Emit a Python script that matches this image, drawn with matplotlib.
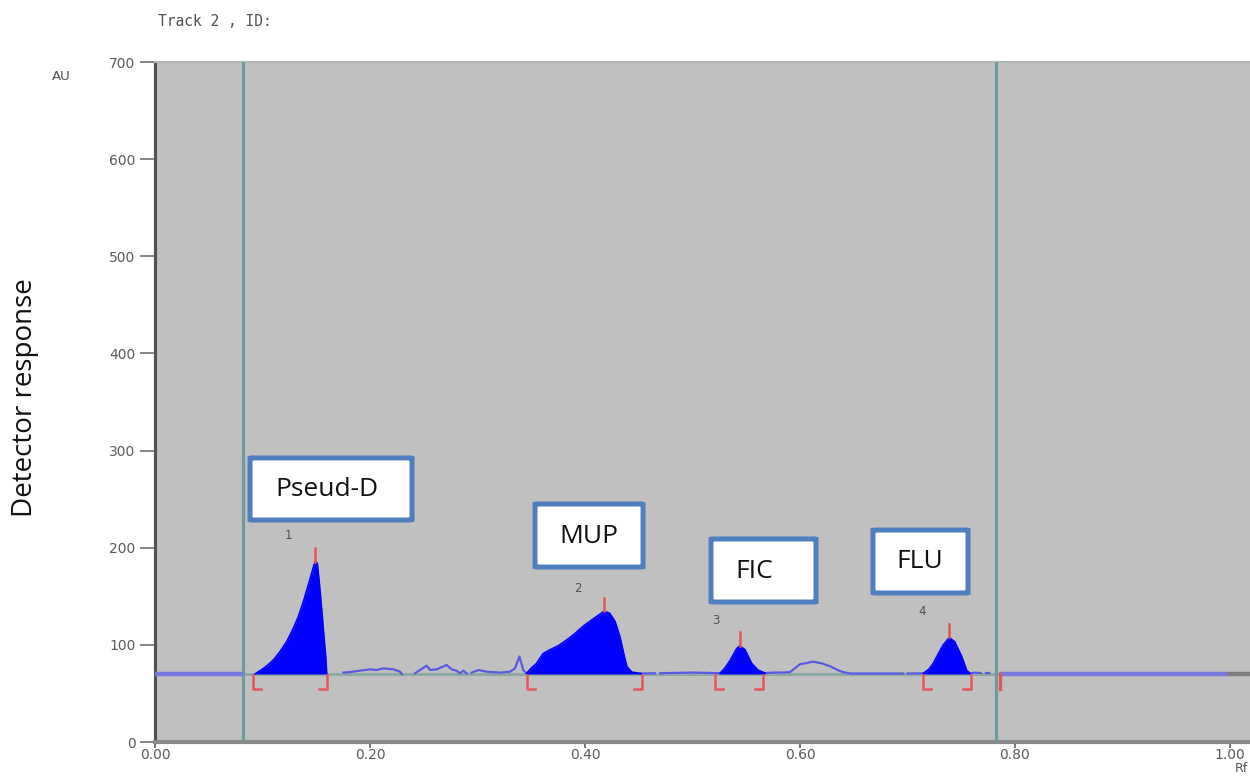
import numpy as np
import matplotlib
matplotlib.use("Agg")
import matplotlib.pyplot as plt
from matplotlib.patches import FancyBboxPatch

# ---- densitometric scan data (Rf vs. AU) ----
baseline_au = 70

peak_names = ["Pseud-D", "MUP", "FIC", "FLU"]
peak_ids = ["1", "2", "3", "4"]

peak1_x = [0.0930, 0.0977, 0.1039, 0.1101, 0.1163, 0.1225, 0.1287, 0.1333, 0.1380, 0.1426, 0.1457,
           0.1479, 0.1491, 0.1510, 0.1529, 0.1551, 0.1572, 0.1588, 0.1597]
peak1_y = [70, 73.4, 78.2, 84.4, 93, 103.3, 117, 129, 144.4, 161.6, 173.7,
           182.2, 185.6, 184, 163, 136, 108, 88, 70.7]

peak2_x = [0.3457, 0.3500, 0.3550, 0.3610, 0.3670, 0.3750, 0.3830, 0.3900, 0.3980, 0.4080, 0.4170, 0.4180, 0.4230, 0.4280, 0.4326, 0.4360, 0.4390, 0.4435, 0.4520]
peak2_y = [70.7, 76, 81, 91, 94.7, 99, 105, 111, 119, 127, 134, 134.5, 132.5, 124, 108, 91, 77.5, 72, 70.5]

peak3_x = [0.5256, 0.5300, 0.5350, 0.5410, 0.5440, 0.5488, 0.5550, 0.5610, 0.5674]
peak3_y = [70.7, 76, 84, 96, 99, 95, 81, 74, 71]

peak4_x = [0.7147, 0.7200, 0.7240, 0.7287, 0.7333, 0.7390, 0.7440, 0.7470, 0.7504, 0.7550, 0.7580]
peak4_y = [70.7, 75, 81, 91, 100, 107.7, 103, 96, 88, 74, 70.7]

# unintegrated trace between the peaks (nan = gap in the recorded line)
noise1_x = [0.1752, 0.1845, 0.1907, 0.2000, 0.2062, 0.2124, 0.2217, 0.2279, 0.2295, np.nan,
            0.2419, 0.2465, 0.2527, 0.2558, 0.2620, 0.2713, 0.2760, 0.2806, 0.2837, 0.2868, 0.2900, np.nan,
            0.2946, 0.3008, 0.3085, 0.3209, 0.3302, 0.3349, 0.3390, 0.3426, 0.3457]
noise1_y = [71.4, 72.4, 73.4, 74.8, 74.1, 75.8, 74.8, 72.4, 70, np.nan,
            70.7, 74.1, 78.6, 74.1, 74.8, 79.3, 74.8, 73.4, 70.7, 73.4, 70.7, np.nan,
            71.4, 74.1, 72.4, 71.4, 72.4, 75.8, 88, 74, 70.7]

noise2_x = [0.4520, 0.4650, np.nan, 0.4700, 0.5000, 0.5200, 0.5256]
noise2_y = [70.5, 70.8, np.nan, 70.8, 71.5, 71, 70.7]

noise3_x = [0.5674, 0.5750, 0.5850, 0.5907, 0.6000, 0.6124, 0.6200, 0.6280, 0.6350, 0.6400, 0.6465, 0.6700, 0.6960, np.nan, 0.7000, 0.7147]
noise3_y = [71, 71.5, 71.5, 72, 80, 82.7, 81, 78, 74, 72, 70.5, 70.5, 70.5, np.nan, 70.5, 70.7]

noise4_x = [0.7580, 0.7620, 0.7680, np.nan, 0.7730, 0.7760]
noise4_y = [70.7, 71.3, 71, np.nan, 71, 71]

# flat detector signal outside the track window
outer_left_x = [0.0, 0.082]
outer_right_x = [0.785, 0.997]
outer_y = [70, 70]

track_window = [0.082, 0.782]
track_end_mark = 0.7836

peak_starts = [0.0915, 0.3457, 0.5210, 0.7147]
peak_ends = [0.1603, 0.4527, 0.5653, 0.7588]

yticks = [0, 100, 200, 300, 400, 500, 600, 700]
xticks = [0.0, 0.2, 0.4, 0.6, 0.8, 1.0]
xtick_labels = ["0.00", "0.20", "0.40", "0.60", "0.80", "1.00"]

peaks_x = [peak1_x, peak2_x, peak3_x, peak4_x]
peaks_y = [peak1_y, peak2_y, peak3_y, peak4_y]

# ---- figure ----
W, H = 1250, 776
fig = plt.figure(figsize=(W / 100, H / 100), dpi=100)
fig.patch.set_facecolor("white")

x_left_px, x_unit_px = 155, 1075
x_max = 1.06
ax = fig.add_axes([x_left_px / W, (776 - 742) / H, x_unit_px * x_max / W, (742 - 62) / H])
ax.set_xlim(0, x_max)
ax.set_ylim(0, 700)
ax.set_facecolor("#c0c0c0")

ax.spines["right"].set_visible(False)
ax.spines["top"].set_color("#b4b4b4")
ax.spines["top"].set_linewidth(1.5)
ax.spines["left"].set_color("#505050")
ax.spines["left"].set_linewidth(2.2)
ax.spines["bottom"].set_color("#8a8a8a")
ax.spines["bottom"].set_linewidth(3)

ax.set_yticks(yticks)
ax.set_yticklabels([str(v) for v in yticks])
ax.set_xticks(xticks)
ax.set_xticklabels(xtick_labels)
ax.tick_params(axis="y", length=11, width=1.2, color="#707070", labelcolor="#5a5a5a",
               labelsize=10, pad=3)
ax.tick_params(axis="x", length=4, width=1.2, color="#606060", labelcolor="#5a5a5a",
               labelsize=10, pad=0)

# integration baseline and track window
ax.plot([0, x_max], [baseline_au, baseline_au], color="#8ea8a6", lw=2.2, zorder=2,
        solid_capstyle="butt")
for xv in track_window:
    ax.axvline(xv, color="#6f9c9a", lw=2.3, zorder=3)

ax.plot(outer_left_x, outer_y, color="#7878de", lw=3.2, zorder=4, solid_capstyle="butt")
ax.plot(outer_right_x, outer_y, color="#7a7ade", lw=3.2, zorder=4, solid_capstyle="butt")
ax.plot([outer_right_x[1], x_max], outer_y, color="#7e7e7e", lw=3.2, zorder=4,
        solid_capstyle="butt")

# raw trace between peaks
for nx, ny in [(noise1_x, noise1_y), (noise2_x, noise2_y), (noise3_x, noise3_y), (noise4_x, noise4_y)]:
    ax.plot(nx, ny, color="#5a5ae2", lw=1.6, zorder=5)

# integrated peaks
for px, py in zip(peaks_x, peaks_y):
    ax.fill_between(px, baseline_au, py, color="#0000ff", lw=0, zorder=6)
    ax.plot(px, py, color="#0000ff", lw=1.2, zorder=6)

# peak apex markers
red = "#e8545a"
for px, py in zip(peaks_x, peaks_y):
    i = int(np.argmax(py))
    ax.plot([px[i], px[i]], [py[i], py[i] + 14], color=red, lw=1.8, zorder=7)

# peak start/end brackets
foot = 0.0075
low = 55
for xs, xe in zip(peak_starts, peak_ends):
    ax.plot([xs + foot, xs, xs], [low, low, baseline_au - 1], color=red, lw=1.8, zorder=7)
    ax.plot([xe - foot, xe, xe], [low, low, baseline_au - 1], color=red, lw=1.8, zorder=7)
ax.plot([track_end_mark + 0.002, track_end_mark + 0.002], [low, baseline_au], color=red, lw=2.4, zorder=7)

# peak numbers
num_pos = [(0.124, 213), (0.393, 158), (0.522, 125), (0.714, 134)]
for (nx, ny), lab in zip(num_pos, peak_ids):
    ax.text(nx, ny, lab, fontsize=8.5, color="#505050", ha="center", va="center", zorder=8)

# compound boxes: (x0, y0, x1, y1) in data units, text anchor
boxes = [
    (0.0884, 228.5, 0.2391, 292.4, (0.1600, 260)),
    (0.3535, 180.1, 0.4540, 245.0, (0.4040, 212)),
    (0.5172, 144.1, 0.6149, 209.0, (0.5570, 175)),
    (0.6679, 153.4, 0.7563, 218.2, (0.7110, 186)),
]
for (x0, y0, x1, y1, (tx, ty)), name in zip(boxes, peak_names):
    patch = FancyBboxPatch((x0, y0), x1 - x0, y1 - y0,
                           boxstyle="round,pad=0,rounding_size=0.003",
                           fc="white", ec="#4f7fbf", lw=3.6, zorder=9,
                           mutation_aspect=100)
    ax.add_patch(patch)
    ax.text(tx, ty, name, fontsize=19, family="Open Sans", color="#111111",
            ha="center", va="center", zorder=10)

# labels and header
fig.text(215 / W, 1 - 22 / H, "Track 2 , ID:", fontsize=10.5, family="DejaVu Sans Mono",
         color="#505050", ha="center", va="center")
fig.text(61 / W, 1 - 77 / H, "AU", fontsize=9.5, color="#505050", ha="center", va="center")
fig.text(1248 / W, 1 - 769 / H, "Rf", fontsize=9, color="#505050", ha="right", va="center")
fig.text(25 / W, 1 - 398 / H, "Detector response", fontsize=20, family="Open Sans",
         color="#111111", rotation=90, ha="center", va="center")

fig.savefig("out.png", dpi=100, facecolor="white")
